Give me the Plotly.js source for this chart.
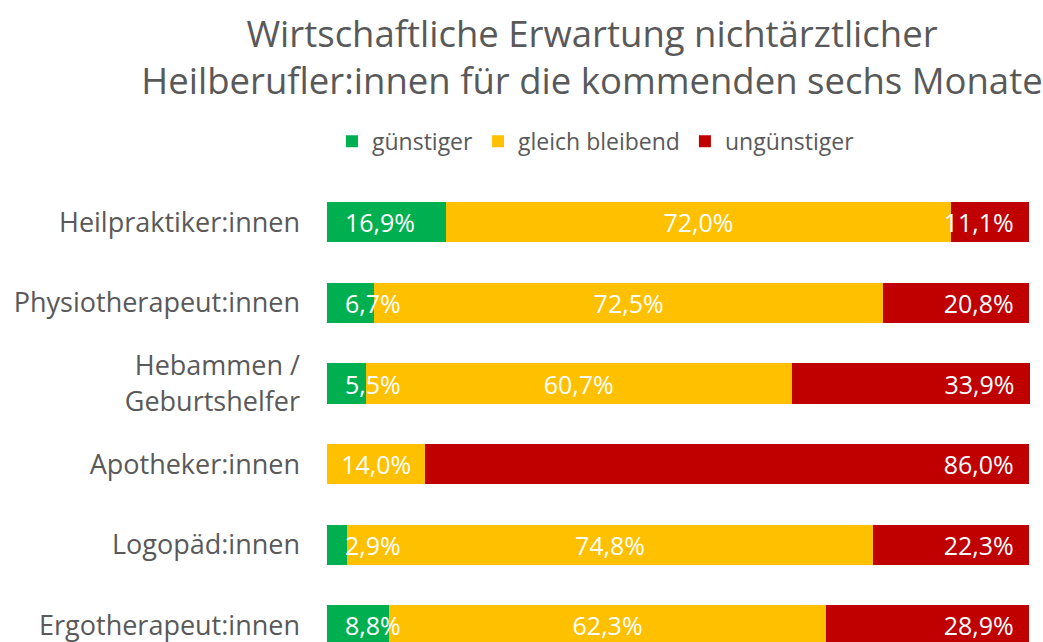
<!DOCTYPE html>
<html>
<head>
<meta charset="utf-8">
<script src="https://cdn.plot.ly/plotly-3.0.1.min.js"></script>
<style>html,body{margin:0;padding:0;background:#fff;}#chart{width:1043px;height:642px;}</style>
</head>
<body>
<div id="chart"></div>
<script>
const categories = ["Heilpraktiker:innen", "Physiotherapeut:innen", "Hebammen /<br>Geburtshelfer", "Apotheker:innen", "Logopäd:innen", "Ergotherapeut:innen"];
const seriesNames = ["günstiger", "gleich bleibend", "ungünstiger"];
const guenstiger = [16.9, 6.7, 5.5, 0.0, 2.9, 8.8];
const gleichBleibend = [72.0, 72.5, 60.7, 14.0, 74.8, 62.3];
const unguenstiger = [11.1, 20.8, 33.9, 86.0, 22.3, 28.9];
const colors = ["#00B050", "#FFC000", "#C00000"];

const fmt = v => v > 0 ? v.toFixed(1).replace('.', ',') + '%' : '';
const gray = '#595959';
const fam = '"Open Sans", Roboto, Arial, sans-serif';
const valueFont = {color: '#ffffff', size: 25, family: fam};

function mk(name, vals, color, showText, anchor, tmpl) {
  const t = {
    type: 'bar', orientation: 'h', name: name,
    y: categories, x: vals,
    marker: {color: color},
    hoverinfo: 'skip'
  };
  if (showText) {
    Object.assign(t, {
      text: vals.map(fmt),
      texttemplate: tmpl,
      textposition: 'inside',
      insidetextanchor: anchor,
      textangle: 0,
      constraintext: 'none',
      textfont: valueFont
    });
  } else {
    t.textposition = 'none';
  }
  return t;
}

const data = [
  mk(seriesNames[0], guenstiger, colors[0], false),
  mk(seriesNames[1], gleichBleibend, colors[1], true, 'middle', '%{text}'),
  mk(seriesNames[2], unguenstiger, colors[2], true, 'end', '%{text}\u2002')
];

// green labels: drawn above all bars, anchored at each bar's base
const greenAnnotations = guenstiger.map((v, i) => v > 0 ? {
  x: 0, y: categories[i], xref: 'x', yref: 'y',
  text: fmt(v), showarrow: false,
  xanchor: 'left', yanchor: 'middle', xshift: 16,
  font: valueFont
} : null).filter(Boolean);

const layout = {
  width: 1043, height: 642,
  margin: {l: 327, r: 13, t: 182, b: 0, pad: 0},
  barmode: 'stack',
  bargap: 0.5,
  paper_bgcolor: '#ffffff', plot_bgcolor: '#ffffff',
  font: {family: fam, color: gray},
  title: {
    text: 'Wirtschaftliche Erwartung nichtärztlicher<br>Heilberufler:innen für die kommenden sechs Monate',
    font: {size: 36.5, color: gray, family: fam},
    xref: 'container', x: 0.5676, xanchor: 'center',
    yref: 'container', y: 0.927, yanchor: 'top'
  },
  showlegend: true,
  legend: {
    orientation: 'h',
    xref: 'container', x: 0.5714, xanchor: 'center',
    yref: 'container', y: 0.780, yanchor: 'middle',
    font: {size: 23, color: gray, family: fam},
    traceorder: 'normal',
    itemclick: false
  },
  annotations: greenAnnotations,
  xaxis: {range: [0, 100.1], showgrid: false, zeroline: false, showticklabels: false, showline: false, fixedrange: true},
  yaxis: {
    type: 'category',
    range: [5.207, -0.5],
    showgrid: false, zeroline: false, showline: false,
    ticks: '', ticklabelstandoff: 26,
    tickfont: {size: 27, color: gray, family: fam},
    fixedrange: true
  }
};

Plotly.newPlot('chart', data, layout, {displayModeBar: false, staticPlot: true});
</script>
</body>
</html>
